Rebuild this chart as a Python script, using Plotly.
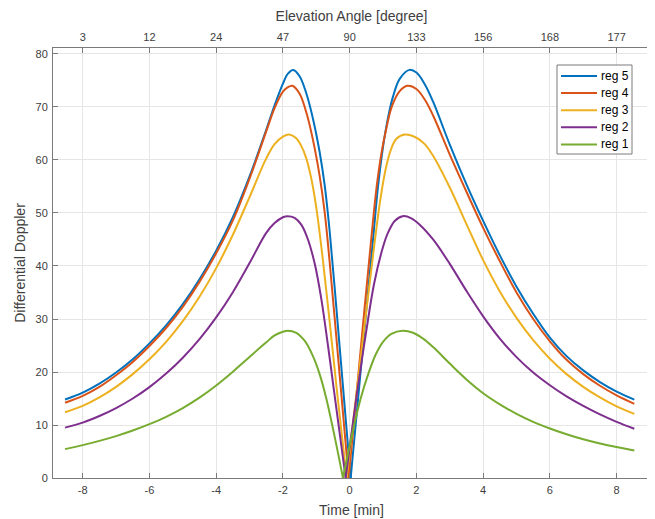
import plotly.graph_objects as go

# ---- data ----
t_reg5 = [-8.53, -8, -7.5, -7, -6.5, -6, -5.5, -5, -4.5, -4, -3.5, -3, -2.5, -2.25, -2, -1.85, -1.69, -1.5, -1.3, -1.1,
          -0.9, -0.75, -0.6, -0.4, -0.19, 0.03,
          0.25, 0.5, 0.7, 0.85, 1.0, 1.15, 1.3, 1.5, 1.79, 2.0, 2.25, 2.5, 3, 3.5, 4, 4.5, 5, 5.5, 6, 6.5, 7, 7.5,
          8, 8.53]
v_reg5 = [14.8, 16.1, 17.8, 19.9, 22.4, 25.4, 28.8, 32.8, 37.5, 42.9, 49.2, 56.9, 65.7, 70.3, 74.4, 76.3, 77.0, 75.8, 72.6, 67.8,
          61.5, 55.3, 46.6, 32.2, 16.5, 0.0,
          14.8, 31.8, 45.0, 55.0, 62.5, 68.0, 72.0, 75.3, 77.0, 76.5, 74.3, 71.0, 62.9, 55.4, 48.5, 42.0, 36.1, 31.0, 26.5, 23.0, 20.3, 18.1,
          16.3, 14.8]

t_reg4 = [-8.53, -8, -7.5, -7, -6.5, -6, -5.5, -5, -4.5, -4, -3.5, -3, -2.5, -2.25, -2, -1.86, -1.72, -1.5, -1.3, -1.1,
          -0.9, -0.75, -0.6, -0.45, -0.27, -0.03,
          0.2, 0.45, 0.65, 0.8, 0.95, 1.1, 1.27, 1.5, 1.73, 2.0, 2.25, 2.5, 3, 3.5, 4, 4.5, 5, 5.5, 6, 6.5, 7, 7.5,
          8, 8.53]
v_reg4 = [14.2, 15.5, 17.2, 19.4, 21.9, 24.9, 28.3, 32.3, 37.0, 42.4, 48.6, 56.5, 65.4, 69.8, 72.9, 73.7, 74.0, 72.5, 69.0, 63.8,
          57.0, 50.2, 40.8, 30.2, 17.3, 0.0,
          15.4, 32.3, 45.3, 54.5, 61.2, 66.0, 70.2, 73.0, 74.0, 73.4, 71.4, 68.4, 61.0, 54.0, 47.2, 40.9, 35.0, 30.0, 25.8, 22.3, 19.6, 17.4,
          15.6, 14.0]

t_reg3 = [-8.53, -8, -7.5, -7, -6.5, -6, -5.5, -5, -4.5, -4, -3.5, -3, -2.5, -2.25, -2, -1.81, -1.6, -1.46, -1.3, -1.15,
          -1.0, -0.8, -0.6, -0.4, -0.09,
          0.18, 0.45, 0.7, 0.93, 1.1, 1.25, 1.4, 1.65, 2.0, 2.25, 2.5, 3, 3.5, 4, 4.5, 5, 5.5, 6, 6.5, 7, 7.5,
          8, 8.53]
v_reg3 = [12.4, 13.6, 15.2, 17.2, 19.6, 22.4, 25.7, 29.6, 34.2, 39.6, 45.9, 53.0, 60.3, 63.0, 64.4, 64.8, 64.1, 62.8, 60.3, 56.5,
          51.0, 41.0, 29.5, 17.5, 0.0,
          14.7, 29.0, 42.0, 53.0, 58.9, 62.2, 64.0, 64.8, 64.2, 63.0, 60.8, 54.8, 47.9, 41.1, 35.2, 30.2, 26.0, 22.5, 19.6, 17.2, 15.2,
          13.5, 12.1]

t_reg2 = [-8.53, -8, -7.5, -7, -6.5, -6, -5.5, -5, -4.5, -4, -3.5, -3, -2.5, -2.25, -2, -1.86, -1.65, -1.45, -1.25, -1.05,
          -0.85, -0.65, -0.47, -0.12,
          0.23, 0.48, 0.73, 0.95, 1.13, 1.35, 1.59, 1.85, 2.1, 2.5, 3, 3.5, 4, 4.5, 5, 5.5, 6, 6.5, 7, 7.5,
          8, 8.53]
v_reg2 = [9.5, 10.45, 11.7, 13.2, 15.0, 17.15, 19.7, 22.7, 26.2, 30.3, 35.05, 40.55, 46.25, 48.1, 49.2, 49.4, 49.1, 47.8, 45.0, 40.5,
          33.8, 25.0, 16.5, 0.0,
          16.5, 27.0, 36.6, 42.5, 46.0, 48.5, 49.4, 49.0, 47.8, 45.0, 40.4, 35.3, 30.5, 26.3, 22.8, 19.9, 17.5, 15.4, 13.6, 12.0,
          10.6, 9.3]

t_reg1 = [-8.53, -8, -7.5, -7, -6.5, -6, -5.5, -5, -4.5, -4, -3.5, -3, -2.5, -2.25, -2, -1.86, -1.6, -1.35, -1.1, -0.9,
          -0.7, -0.45, -0.2,
          0.1, 0.33, 0.55, 0.78, 1.0, 1.25, 1.59, 1.9, 2.2, 2.5, 3, 3.5, 4, 4.5, 5, 5.5, 6, 6.5, 7, 7.5,
          8, 8.53]
v_reg1 = [5.45, 6.2, 7.0, 7.9, 8.95, 10.15, 11.55, 13.2, 15.15, 17.45, 20.05, 22.85, 25.6, 26.9, 27.6, 27.8, 27.4, 25.9, 23.0, 19.6,
          15.0, 7.8, 0.0,
          9.0, 15.0, 19.5, 23.3, 25.7, 27.2, 27.8, 27.4, 26.3, 24.7, 21.6, 18.6, 16.0, 13.9, 12.1, 10.6, 9.35, 8.25, 7.3, 6.5,
          5.85, 5.2]

series_names = ["reg 5", "reg 4", "reg 3", "reg 2", "reg 1"]
series_t = [t_reg5, t_reg4, t_reg3, t_reg2, t_reg1]
series_v = [v_reg5, v_reg4, v_reg3, v_reg2, v_reg1]
series_colors = ["#0072BD", "#D95319", "#EDB120", "#7E2F8E", "#77AC30"]

time_ticks = [-8, -6, -4, -2, 0, 2, 4, 6, 8]
time_tick_labels = ["-8", "-6", "-4", "-2", "0", "2", "4", "6", "8"]
elev_labels = ["3", "12", "24", "47", "90", "133", "156", "168", "177"]
y_ticks = [0, 10, 20, 30, 40, 50, 60, 70, 80]

x_range = [-8.89, 9.0]
y_range = [0, 81.13]

FONT = "Liberation Sans, Arial, Helvetica, sans-serif"
AXC = "#7a7a7a"
TXC = "#404040"
GRID = "#e6e6e6"

# figure geometry (the page adds an 8 px body margin around the figure)
W, H = 647, 511
ML, MR, MT, MB = 45, 5, 40, 41
PAGE_OFF = 8


def px_to_paper_x(px):
    return (px - PAGE_OFF - ML) / (W - ML - MR)


def px_to_paper_y(py):
    return 1 - (py - PAGE_OFF - MT) / (H - MT - MB)


fig = go.Figure()
for name, tt, vv, col in zip(series_names, series_t, series_v, series_colors):
    iz = vv.index(min(vv))
    # left branch (up to the zero point) and right branch (from the zero point)
    fig.add_trace(go.Scatter(x=tt[:iz + 1], y=vv[:iz + 1], mode="lines", name=name,
                             legendgroup=name, showlegend=False,
                             line=dict(color=col, width=2, shape="spline", smoothing=1.0)))
    fig.add_trace(go.Scatter(x=tt[iz:], y=vv[iz:], mode="lines", name=name,
                             legendgroup=name, showlegend=False,
                             line=dict(color=col, width=2, shape="spline", smoothing=1.0)))

# invisible trace carrying the top (elevation) axis
fig.add_trace(go.Scatter(x=time_ticks, y=[None] * len(time_ticks), xaxis="x2",
                         mode="lines", showlegend=False, hoverinfo="skip"))

# legend box (MATLAB style, compact rows)
box_l, box_r, box_t, box_b = 557, 632, 65, 154
row0, row_step = 76, 17.1
shapes = [dict(type="rect", xref="paper", yref="paper",
               x0=px_to_paper_x(box_l), x1=px_to_paper_x(box_r),
               y0=px_to_paper_y(box_b), y1=px_to_paper_y(box_t),
               line=dict(color=AXC, width=1), fillcolor="white", layer="above")]
annotations = []
for i, (name, col) in enumerate(zip(series_names, series_colors)):
    yy = px_to_paper_y(row0 + i * row_step)
    shapes.append(dict(type="line", xref="paper", yref="paper",
                       x0=px_to_paper_x(561), x1=px_to_paper_x(597), y0=yy, y1=yy,
                       line=dict(color=col, width=2), layer="above"))
    annotations.append(dict(xref="paper", yref="paper", x=px_to_paper_x(599), y=yy,
                            text=name, showarrow=False, xanchor="left", yanchor="middle",
                            font=dict(family=FONT, size=12, color="#000000")))

fig.update_layout(
    width=W, height=H,
    margin=dict(l=ML, r=MR, t=MT, b=MB, autoexpand=False),
    paper_bgcolor="white", plot_bgcolor="white",
    font=dict(family=FONT, color=TXC, size=11),
    showlegend=False,
    shapes=shapes,
    annotations=annotations,
    xaxis=dict(range=x_range, tickvals=time_ticks, ticktext=time_tick_labels, automargin=False,
               ticks="inside", ticklen=5, tickcolor=AXC, showline=True, linecolor=AXC,
               linewidth=1, showgrid=True, gridcolor=GRID, gridwidth=1, zeroline=False,
               tickfont=dict(size=11, color=TXC), ticklabelstandoff=2,
               title=dict(text="Time [min]", font=dict(size=14, color=TXC), standoff=9)),
    xaxis2=dict(range=x_range, overlaying="x", side="top", tickvals=time_ticks, ticktext=elev_labels,
                automargin=False,
                ticks="inside", ticklen=5, tickcolor=AXC, showline=True, linecolor=AXC,
                linewidth=1, showgrid=False, zeroline=False,
                tickfont=dict(size=11, color=TXC), ticklabelstandoff=2,
                title=dict(text="Elevation Angle [degree]", font=dict(size=14, color=TXC), standoff=5)),
    yaxis=dict(range=y_range, tickvals=y_ticks, ticks="inside", ticklen=5, tickcolor=AXC, automargin=False,
               showline=True, linecolor=AXC, linewidth=1, showgrid=True, gridcolor=GRID,
               gridwidth=1, zeroline=False, tickfont=dict(size=11, color=TXC), ticklabelstandoff=2,
               title=dict(text="Differential Doppler", font=dict(size=14, color=TXC), standoff=6)),
)

fig.write_html("out.html")
